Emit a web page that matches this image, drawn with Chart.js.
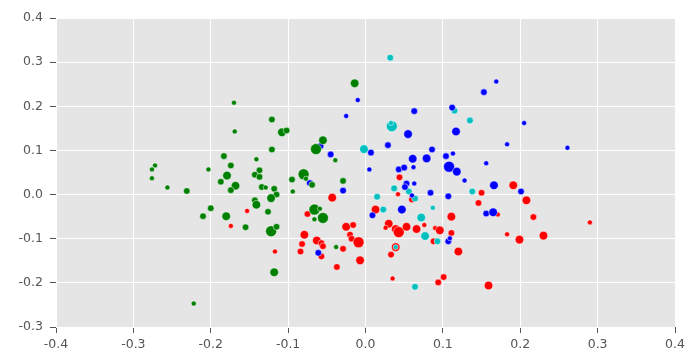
<!DOCTYPE html>
<html>
<head>
<meta charset="utf-8">
<script src="https://cdn.jsdelivr.net/npm/chart.js@4"></script>
<style>
  html, body { margin: 0; padding: 0; background: #fff; }
  canvas { display: block; }
</style>
</head>
<body>
<canvas id="scatter" width="695" height="362"></canvas>
<script>
// --- data ---
const xTicks = [-0.4, -0.3, -0.2, -0.1, 0.0, 0.1, 0.2, 0.3, 0.4];
const yTicks = [-0.3, -0.2, -0.1, 0.0, 0.1, 0.2, 0.3, 0.4];

// marker radius (px) per point: 2.5 small, 3.3 medium, 4.3 large, 5.5 extra large
const greenX = [-0.170, -0.169, -0.183, -0.174, -0.272, -0.276, -0.203, -0.179, -0.276, -0.187,
                -0.168, -0.256, -0.231, -0.174, -0.200, -0.210, -0.180, -0.155, -0.222, -0.014,
                -0.121, -0.108, -0.102, -0.055, -0.064, -0.121, -0.039, -0.141, -0.137, -0.143,
                -0.137, -0.080, -0.077, -0.095, -0.069, -0.029, -0.134, -0.129, -0.118, -0.094,
                -0.115, -0.122, -0.143, -0.141, -0.126, -0.066, -0.059, -0.055, -0.066, -0.122,
                -0.115, -0.038, -0.118];
const greenY = [0.208, 0.143, 0.087, 0.066, 0.066, 0.057, 0.057, 0.043, 0.037, 0.029,
                0.020, 0.016, 0.008, 0.010, -0.031, -0.049, -0.049, -0.074, -0.247, 0.252,
                0.170, 0.141, 0.145, 0.123, 0.103, 0.102, 0.078, 0.080, 0.055, 0.045,
                0.040, 0.046, 0.036, 0.034, 0.022, 0.031, 0.017, 0.016, 0.013, 0.007,
                0.000, -0.008, -0.013, -0.023, -0.039, -0.034, -0.032, -0.053, -0.056, -0.083,
                -0.073, -0.119, -0.176];
const greenS = [2.5, 2.5, 3.3, 3.3, 2.5, 2.5, 2.5, 4.3, 2.5, 3.3,
                4.3, 2.5, 3.3, 3.3, 3.3, 3.3, 4.3, 3.3, 2.5, 4.3,
                3.3, 4.3, 3.3, 4.3, 5.5, 3.3, 2.5, 2.5, 3.3, 3.3,
                3.3, 5.5, 2.5, 3.3, 3.3, 3.3, 3.3, 2.5, 3.3, 2.5,
                3.3, 4.3, 3.3, 4.3, 3.3, 5.5, 2.5, 5.5, 2.5, 5.5,
                3.3, 2.5, 4.3];

const blueX = [-0.010, -0.025, -0.058, 0.007, -0.045, 0.005, -0.072, -0.029, -0.061, 0.009,
               0.153, 0.169, 0.063, 0.112, 0.055, 0.117, 0.029, 0.086, 0.061, 0.079,
               0.104, 0.113, 0.108, 0.118, 0.156, 0.043, 0.050, 0.062, 0.053, 0.051,
               0.063, 0.128, 0.166, 0.084, 0.060, 0.107, 0.156, 0.165, 0.047, 0.107,
               0.109, 0.205, 0.183, 0.261, 0.201];
const blueY = [0.214, 0.178, 0.110, 0.095, 0.091, 0.057, 0.026, 0.009, -0.132, -0.047,
               0.232, 0.256, 0.189, 0.197, 0.137, 0.143, 0.112, 0.102, 0.081, 0.082,
               0.087, 0.093, 0.063, 0.052, 0.071, 0.057, 0.061, 0.062, 0.025, 0.017,
               0.025, 0.032, 0.021, 0.004, -0.002, -0.004, -0.043, -0.040, -0.034, -0.106,
               -0.099, 0.162, 0.114, 0.106, 0.007];
const blueS = [2.5, 2.5, 3.3, 3.3, 3.3, 2.5, 3.3, 3.3, 3.3, 3.3,
               3.3, 2.5, 3.3, 3.3, 4.3, 4.3, 3.3, 3.3, 4.3, 4.3,
               3.3, 2.5, 5.5, 4.3, 2.5, 3.3, 3.3, 2.5, 3.3, 3.3,
               2.5, 2.5, 4.3, 3.3, 2.5, 3.3, 3.3, 4.3, 4.3, 3.3,
               2.5, 2.5, 2.5, 2.5, 3.3];

const cyanX = [-0.002, 0.115, 0.135, 0.034, 0.033, 0.032, 0.037, 0.056, 0.138, 0.015,
               0.064, 0.023, 0.087, 0.072, 0.077, 0.093, 0.039, 0.064];
const cyanY = [0.103, 0.190, 0.168, 0.155, 0.162, 0.310, 0.014, 0.007, 0.007, -0.005,
               -0.009, -0.034, -0.030, -0.052, -0.094, -0.106, -0.119, -0.209];
const cyanS = [4.3, 3.3, 3.3, 5.5, 2.5, 3.3, 3.3, 3.3, 3.3, 3.3,
               3.3, 3.3, 2.5, 4.3, 4.3, 3.3, 2.5, 3.3];

const redX = [-0.153, -0.174, -0.043, -0.075, -0.025, -0.016, -0.020, -0.018, -0.009, -0.079,
              -0.063, -0.057, -0.055, -0.082, -0.084, -0.117, -0.057, -0.029, -0.007, -0.037,
              0.044, 0.150, 0.042, 0.060, 0.146, 0.013, 0.111, 0.030, 0.026, 0.039,
              0.043, 0.053, 0.066, 0.076, 0.090, 0.096, 0.111, 0.088, 0.039, 0.033,
              0.120, 0.035, 0.101, 0.094, 0.159, 0.191, 0.208, 0.171, 0.217, 0.290,
              0.183, 0.199, 0.230];
const redY = [-0.037, -0.071, -0.007, -0.044, -0.073, -0.069, -0.091, -0.100, -0.108, -0.091,
              -0.104, -0.110, -0.117, -0.112, -0.129, -0.129, -0.140, -0.123, -0.149, -0.164,
              0.039, 0.004, 0.001, -0.011, -0.019, -0.034, -0.050, -0.066, -0.075, -0.078,
              -0.085, -0.073, -0.078, -0.069, -0.076, -0.081, -0.087, -0.106, -0.119, -0.136,
              -0.129, -0.190, -0.187, -0.199, -0.206, 0.021, -0.013, -0.045, -0.051, -0.063,
              -0.090, -0.102, -0.093];
const redS = [2.5, 2.5, 4.3, 3.3, 4.3, 3.3, 3.3, 3.3, 5.5, 4.3,
              4.3, 3.3, 3.3, 3.3, 3.3, 2.5, 3.3, 3.3, 4.3, 3.3,
              3.3, 3.3, 2.5, 3.3, 3.3, 4.3, 4.3, 4.3, 2.5, 4.3,
              5.5, 4.3, 4.3, 2.5, 2.5, 4.3, 3.3, 3.3, 4.3, 3.3,
              4.3, 2.5, 3.3, 3.3, 4.3, 4.3, 4.3, 2.5, 3.3, 2.5,
              2.5, 4.3, 4.3];

function toPoints(xs, ys, ss) {
    return xs.map((x, i) => ({ x: x, y: ys[i], r: ss[i] }));
}

// grey panel behind the points
const panelBackground = {
    id: 'panelBackground',
    beforeDraw(chart) {
        const { ctx, chartArea: a } = chart;
        ctx.save();
        ctx.fillStyle = '#e5e5e5';
        ctx.fillRect(a.left, a.top, a.right - a.left, a.bottom - a.top);
        ctx.restore();
    }
};

const fmt = v => (Math.abs(v) < 1e-9 ? '0.0' : v.toFixed(1));
const tickFont = { family: 'DejaVu Sans', size: 12.5 };

// first dataset is painted last (on top)
new Chart(document.getElementById('scatter'), {
    type: 'bubble',
    data: {
        datasets: [
            { label: 'green', data: toPoints(greenX, greenY, greenS), backgroundColor: '#008000' },
            { label: 'blue', data: toPoints(blueX, blueY, blueS), backgroundColor: '#0000ff' },
            { label: 'cyan', data: toPoints(cyanX, cyanY, cyanS), backgroundColor: '#00bfbf' },
            { label: 'red', data: toPoints(redX, redY, redS), backgroundColor: '#ff0000' }
        ]
    },
    options: {
        responsive: false,
        animation: false,
        layout: { padding: { top: 18, right: 20, left: 0, bottom: 0 } },
        elements: { point: { borderColor: 'rgba(255,255,255,0.85)', borderWidth: 0.6 } },
        plugins: { legend: { display: false }, tooltip: { enabled: false } },
        scales: {
            x: {
                type: 'linear',
                min: xTicks[0],
                max: xTicks[xTicks.length - 1],
                afterBuildTicks: s => { s.ticks = xTicks.map(v => ({ value: v })); },
                afterFit: s => { s.height = 35; },
                border: { display: false },
                grid: { color: '#ffffff', lineWidth: 1, tickColor: '#555555', tickLength: 6 },
                ticks: { callback: fmt, color: '#555555', font: tickFont, padding: 4, maxRotation: 0 }
            },
            y: {
                type: 'linear',
                min: yTicks[0],
                max: yTicks[yTicks.length - 1],
                afterBuildTicks: s => { s.ticks = yTicks.map(v => ({ value: v })); },
                afterFit: s => { s.width = 56; },
                border: { display: false },
                grid: { color: '#ffffff', lineWidth: 1, tickColor: '#555555', tickLength: 6 },
                ticks: { callback: fmt, color: '#555555', font: tickFont, padding: 7 }
            }
        }
    },
    plugins: [panelBackground]
});
</script>
</body>
</html>
